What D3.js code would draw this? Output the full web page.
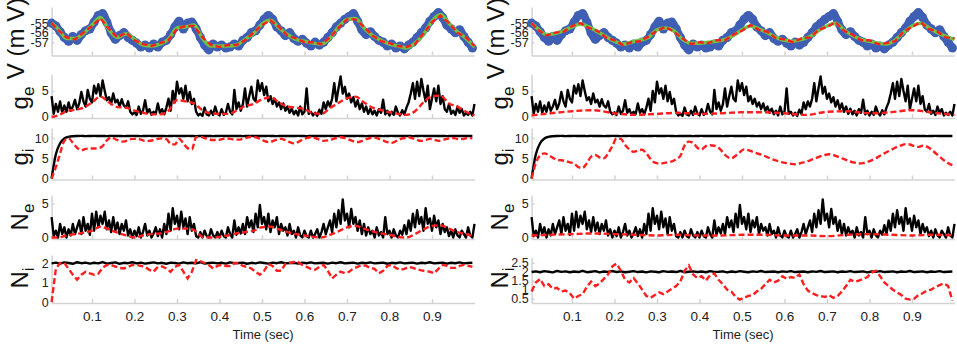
<!DOCTYPE html>
<html>
<head>
<meta charset="utf-8">
<style>
  body { margin: 0; background: #fff; }
  svg { font-family: Arial, "Liberation Sans", sans-serif; }
  .axis path, .axis line { stroke: #d3d3d3; stroke-width: 1.5; }
  .axis text { fill: #222; }
  .ylab { font-size: 24px; fill: #111; }
  .xlab { font-size: 13px; fill: #222; }
  .black { fill: none; stroke: #000; stroke-width: 2.4; stroke-linejoin: round; }
  .red { fill: none; stroke: #ff1e1e; stroke-width: 2.4; stroke-dasharray: 6,3; }
  .green { fill: none; stroke: #6cc544; stroke-width: 3.5; }
  .blue { fill: none; stroke: #3f5fb5; stroke-width: 8; stroke-linejoin: round; }
</style>
</head>
<body>
<script src="https://cdn.jsdelivr.net/npm/d3@7/dist/d3.min.js"></script>
<svg id="chart" width="957" height="350"></svg>
<script>
// ---------- data ----------
const xTicks = [0.1, 0.2, 0.3, 0.4, 0.5, 0.6, 0.7, 0.8, 0.9];

// membrane potential samples, dt = 0.01 (shared by both columns)
const vBlue = [-55.0,-55.3,-55.9,-56.5,-56.9,-56.4,-56.8,-56.2,-55.8,-55.6,
  -54.9,-54.2,-54.0,-54.9,-56.0,-56.7,-56.3,-56.0,-56.5,-56.8,
  -57.1,-57.5,-57.3,-57.6,-57.2,-57.5,-57.0,-56.8,-56.2,-55.4,
  -54.8,-55.6,-55.0,-54.9,-55.6,-56.5,-57.3,-57.8,-57.2,-57.5,
  -57.3,-57.6,-57.5,-57.2,-57.4,-56.8,-56.5,-56.0,-55.8,-55.2,
  -54.6,-54.2,-54.6,-55.4,-55.8,-56.3,-56.0,-56.6,-56.9,-56.7,
  -57.1,-57.4,-57.0,-57.3,-57.0,-56.5,-56.0,-55.4,-55.0,-54.6,
  -54.3,-54.0,-54.8,-55.7,-56.2,-55.9,-56.4,-56.8,-57.0,-57.4,
  -57.2,-57.6,-57.4,-57.7,-57.3,-57.0,-56.5,-56.0,-55.5,-54.8,
  -54.3,-53.9,-54.4,-55.2,-55.6,-56.0,-55.7,-56.4,-57.0,-57.6];

// fitted potentials, dt = 0.02 from t = 0
const vGreenL = [-55.0,-55.6,-56.6,-56.6,-56.1,-55.2,-54.4,-55.7,-56.5,-56.1,
  -56.7,-57.3,-57.4,-57.2,-56.7,-55.5,-55.4,-55.2,-56.6,-57.4,
  -57.4,-57.4,-57.3,-56.7,-56.1,-55.1,-54.7,-55.5,-56.2,-56.7,
  -56.9,-57.1,-57.2,-56.6,-55.4,-54.6,-54.5,-55.5,-56.3,-56.8,
  -57.2,-57.4,-57.6,-57.1,-56.2,-54.8,-54.1,-55.0,-55.9,-56.6,-57.5];
const vRedL = [-55.0,-55.7,-56.5,-56.7,-56.0,-55.3,-54.5,-55.6,-56.5,-56.0,
  -56.8,-57.2,-57.4,-57.1,-56.8,-55.6,-55.3,-55.3,-56.5,-57.3,
  -57.5,-57.3,-57.3,-56.8,-56.0,-55.2,-54.7,-55.4,-56.3,-56.6,
  -57.0,-57.0,-57.2,-56.5,-55.5,-54.6,-54.6,-55.4,-56.3,-56.9,
  -57.1,-57.4,-57.5,-57.2,-56.1,-54.9,-54.2,-55.0,-56.0,-56.5,-57.4];
const vGreenR = [-55.0,-55.6,-56.2,-56.1,-55.8,-55.4,-55.1,-55.4,-55.9,-56.4,
  -56.9,-57.2,-57.0,-56.8,-56.5,-55.7,-55.5,-55.8,-56.7,-57.1,
  -57.1,-57.0,-56.9,-56.7,-56.3,-55.7,-55.3,-55.6,-56.0,-56.5,
  -56.8,-56.9,-56.7,-56.4,-55.8,-55.3,-55.0,-55.7,-56.3,-56.7,
  -56.9,-57.1,-57.2,-56.8,-56.0,-55.3,-55.0,-55.5,-56.0,-56.4,-56.7];
const vRedR = [-55.0,-55.7,-56.3,-56.0,-55.9,-55.3,-55.0,-55.5,-55.8,-56.5,
  -56.8,-57.3,-57.0,-56.9,-56.4,-55.8,-55.4,-55.9,-56.6,-57.2,
  -57.0,-57.1,-56.8,-56.8,-56.2,-55.8,-55.2,-55.7,-55.9,-56.6,
  -56.7,-57.0,-56.6,-56.5,-55.7,-55.4,-54.9,-55.8,-56.2,-56.8,
  -56.8,-57.2,-57.1,-56.9,-55.9,-55.4,-54.9,-55.6,-55.9,-56.5,-56.6];

// excitatory conductance, dt = 0.005 from t = 0.005
const geBlack = [4.0,0.6,2.5,1.0,3.0,0.8,2.2,1.0,2.8,1.2,
  2.0,3.3,1.5,2.6,4.8,3.0,2.0,5.2,3.5,2.8,
  6.0,4.5,6.3,4.0,7.0,5.0,3.2,3.8,2.5,4.5,
  2.8,3.3,2.0,3.4,2.2,1.8,3.0,1.0,0.5,0.9,
  0.4,2.0,0.6,1.2,3.2,0.8,1.5,0.4,1.0,0.6,
  2.6,0.8,1.5,0.5,1.8,3.5,1.2,5.0,2.8,6.8,
  4.5,5.5,3.5,6.0,3.0,4.8,2.5,3.5,1.0,0.3,
  0.6,0.2,1.8,0.5,0.3,1.2,0.4,2.0,0.6,0.3,
  1.5,0.4,0.8,2.5,1.0,0.5,5.2,1.5,2.8,1.2,
  2.4,5.5,2.0,4.0,5.8,3.5,3.0,7.0,5.0,6.5,
  4.2,5.8,3.0,4.0,2.5,3.5,2.0,2.8,1.5,2.6,
  1.2,2.0,0.8,1.6,0.5,1.2,0.3,2.0,0.5,1.0,
  5.5,0.6,1.0,0.3,0.8,0.2,1.4,0.6,2.8,1.5,
  3.0,2.0,3.5,6.5,3.0,5.5,7.8,4.5,5.8,3.5,
  4.5,2.8,3.8,2.0,3.2,1.5,2.6,1.0,2.0,0.6,
  1.6,0.5,1.2,0.3,1.5,0.8,3.3,0.5,1.2,0.3,
  1.0,0.4,2.0,0.8,0.3,1.3,0.5,1.8,2.8,4.5,
  6.5,3.5,6.8,4.0,7.3,5.0,3.0,6.0,1.5,3.5,
  5.5,3.0,6.0,2.5,4.0,1.5,1.0,2.5,0.6,1.2,
  0.4,2.0,0.8,1.5,0.3,0.8,0.4,1.0,0.3,2.5];
// estimates: left dt = 0.02, right dt = 0.05, both from t = 0
const geRedL = [0.0,0.3,1.1,1.4,1.8,2.8,3.9,2.8,1.9,1.8,
  1.2,0.8,0.5,0.5,1.2,3.2,3.0,2.6,1.3,0.7,
  0.6,0.6,1.2,2.1,2.5,3.4,3.8,2.8,2.0,1.8,
  1.5,0.7,0.6,1.7,2.7,3.6,3.9,2.8,1.8,1.3,
  0.9,0.6,0.4,1.1,2.8,4.0,4.1,2.6,2.0,1.0,0.3];
const geRedR = [0.3,0.7,1.1,1.3,0.7,0.4,0.6,0.8,0.6,0.7,
  0.9,0.9,0.7,0.4,1.0,1.1,0.7,0.9,1.3,0.8,0.4];

// inhibitory conductance, dt = 0.01 from t = 0.005
const giBlack = [0.0,6.0,8.7,9.9,10.3,10.45,10.5,10.52,10.48,10.5,
  10.53,10.49,10.5,10.47,10.52,10.5,10.51,10.48,10.5,10.53,
  10.5,10.47,10.5,10.52,10.49,10.5,10.51,10.48,10.5,10.52,
  10.5,10.49,10.53,10.5,10.48,10.5,10.51,10.5,10.47,10.5,
  10.52,10.5,10.49,10.5,10.51,10.48,10.5,10.52,10.5,10.49,
  10.5,10.53,10.5,10.48,10.5,10.51,10.49,10.5,10.52,10.5,
  10.48,10.5,10.51,10.5,10.49,10.53,10.5,10.48,10.5,10.51,
  10.5,10.49,10.52,10.5,10.48,10.5,10.51,10.5,10.47,10.5,
  10.52,10.5,10.49,10.5,10.51,10.48,10.5,10.52,10.5,10.49,
  10.5,10.51,10.5,10.48,10.5,10.52,10.5,10.49,10.5,10.51];
const giRedL = [0.0,2.8,6.2,9.3,9.9,8.8,7.6,7.0,7.3,7.4,
  7.4,7.5,8.0,9.4,10.2,9.7,9.3,9.1,9.5,9.8,
  9.8,9.6,9.3,9.3,9.5,9.8,9.9,9.7,8.6,8.4,
  9.8,8.7,7.5,7.2,10.2,10.3,10.0,9.7,9.5,9.5,
  9.7,9.9,9.8,9.6,9.6,9.8,10.1,10.3,10.2,9.8,
  9.3,9.0,9.2,9.6,9.8,9.5,9.0,8.7,9.0,9.6,
  10.0,10.2,10.0,9.6,9.3,9.4,9.7,10.0,10.2,10.0,
  9.6,9.2,9.0,9.3,9.7,10.0,10.1,9.8,9.4,9.0,
  8.8,9.2,9.7,10.0,10.2,9.9,9.5,9.3,9.5,9.8,
  9.6,9.3,9.5,9.8,10.0,9.9,9.7,9.8,10.0,9.9];
const giRedR = [0.0,3.8,5.7,6.2,5.8,5.1,4.6,4.5,4.3,4.0,
  3.7,2.8,2.6,3.8,5.4,5.8,5.2,5.0,6.2,8.0,
  9.9,9.8,8.3,7.2,6.6,6.9,7.1,6.2,4.8,3.9,
  3.7,3.8,4.0,4.2,4.8,5.6,8.2,9.1,8.8,7.6,
  7.2,8.0,8.2,8.1,7.6,6.5,5.4,5.0,5.6,6.5,
  7.2,7.0,6.6,6.2,5.9,5.5,5.0,4.6,4.3,4.0,
  3.8,3.6,3.5,3.7,4.0,4.3,4.7,5.1,5.5,5.8,
  6.0,5.8,5.4,5.0,4.6,4.2,3.9,3.7,3.8,4.1,
  4.5,5.0,5.6,6.2,6.8,7.3,7.8,8.2,8.5,8.4,
  8.0,7.8,8.1,7.9,7.2,6.3,5.4,4.5,3.8,3.3];

// excitatory spike counts, dt = 0.005 from t = 0.005
const neBlack = [3.0,0.2,1.0,0.0,2.0,0.5,1.5,0.0,1.2,0.3,
  2.0,0.5,1.5,2.5,0.5,3.0,1.0,2.0,0.4,3.5,
  1.0,3.8,1.5,3.2,2.0,3.8,1.2,2.5,0.8,3.0,
  1.0,2.2,0.5,2.0,1.0,2.5,0.3,1.2,0.0,1.0,
  0.2,1.5,0.0,0.8,2.0,0.3,1.0,0.0,0.6,1.5,
  0.2,1.2,0.0,2.0,0.5,3.5,1.0,4.3,2.0,3.2,
  1.2,3.8,1.5,2.8,0.5,3.0,1.0,2.0,0.2,0.0,
  0.8,0.0,1.0,0.2,0.0,1.2,0.3,0.0,0.8,0.0,
  1.0,0.2,0.0,1.5,0.5,0.0,2.5,0.4,1.5,0.6,
  2.0,0.5,3.0,1.5,2.5,0.8,3.5,1.5,4.8,2.0,
  3.0,1.2,3.5,0.8,2.5,1.5,3.0,0.5,2.0,1.0,
  1.5,0.3,2.0,0.5,1.0,0.0,1.5,0.3,0.0,1.0,
  0.2,0.0,1.0,0.0,0.5,1.2,0.0,0.8,2.0,0.5,
  1.5,2.5,0.8,3.5,1.5,4.0,2.0,5.6,2.5,3.5,
  1.5,4.2,2.0,3.0,1.0,2.5,0.5,2.0,0.3,1.5,
  0.5,1.0,0.0,1.5,0.3,0.8,0.0,3.0,0.5,1.0,
  0.0,1.2,0.3,0.0,1.0,0.4,1.8,0.5,2.5,1.0,
  3.5,1.5,4.0,2.0,3.0,1.0,4.3,2.0,2.8,1.0,
  3.2,1.5,2.5,0.5,2.0,0.8,1.5,0.2,1.0,0.0,
  1.2,0.3,0.0,1.0,0.5,0.0,1.5,0.3,0.0,2.0];
const neRedL = [0.0,0.0,0.3,0.5,0.7,1.0,1.6,1.2,0.7,0.3,
  0.0,0.3,0.5,0.6,0.9,1.3,1.3,1.1,0.1,0.0,
  0.1,0.3,0.6,0.8,1.0,1.5,1.6,1.2,0.8,0.5,
  0.3,0.1,0.0,0.4,0.9,1.5,1.7,1.3,0.9,0.6,
  0.4,0.1,0.0,0.5,1.2,1.7,1.8,1.3,0.8,0.5,0.2];
const neRedR = [0.3,0.4,0.5,0.6,0.5,0.4,0.3,0.4,0.3,0.3,
  0.4,0.4,0.3,0.3,0.2,0.4,0.5,0.4,0.3,0.4,0.3];

// inhibitory spike counts, dt = 0.01 from t = 0.005
const niBlack = [1.98,2.02,1.97,2.03,2.0,1.96,2.04,1.99,2.02,1.97,
  2.01,1.98,2.05,1.97,2.0,2.03,1.96,2.01,1.99,2.04,
  1.98,2.02,1.97,2.0,2.03,1.98,2.01,1.96,2.02,2.0,
  1.97,2.03,1.99,2.01,1.98,2.04,1.97,2.0,2.02,1.98,
  2.01,1.97,2.03,1.99,2.0,2.02,1.96,2.01,1.98,2.03,
  2.0,1.97,2.02,1.99,2.04,1.98,2.0,2.01,1.97,2.02,
  1.99,2.03,1.98,2.0,2.01,1.97,2.02,1.99,2.04,1.98,
  2.0,2.02,1.97,2.01,1.99,2.03,1.98,2.0,2.02,1.96,
  2.01,1.99,2.03,1.98,2.0,2.02,1.97,2.01,1.99,2.04,
  1.98,2.0,2.02,1.97,2.01,1.99,2.03,1.98,2.0,2.01];
const niRedL = [0.0,1.7,2.0,2.0,1.7,1.4,1.15,1.4,1.55,1.47,
  1.4,1.45,1.75,1.9,1.9,1.82,1.75,1.72,1.8,1.9,
  1.9,1.85,1.8,1.65,1.56,1.8,1.82,1.72,1.55,1.8,
  1.9,1.56,1.21,1.55,2.15,2.1,2.0,1.9,1.72,1.85,
  1.9,1.85,1.85,2.0,2.0,1.85,1.8,1.72,1.55,1.4,
  1.6,1.95,1.85,1.6,1.6,1.95,2.0,2.05,2.05,1.9,
  1.8,1.7,1.65,1.8,1.9,1.6,1.21,1.4,1.56,1.48,
  1.55,1.72,1.8,1.9,1.85,1.75,1.7,1.47,1.6,1.85,
  1.9,1.75,1.64,1.7,1.8,1.75,1.68,1.62,1.58,1.55,
  1.47,1.7,1.9,1.85,1.75,1.75,1.85,1.9,1.85,1.81];
const niRedR = [0.9,1.4,1.6,1.2,1.3,1.05,1.1,0.9,0.95,0.8,
  0.5,0.65,0.75,1.15,1.45,1.2,1.35,1.6,1.85,2.3,
  2.45,2.05,1.55,1.4,1.65,1.35,1.0,0.65,0.55,0.7,
  0.85,0.75,0.9,1.05,1.2,1.45,2.05,2.35,1.85,1.65,
  1.75,1.5,1.8,1.9,1.55,1.3,1.0,0.9,0.6,0.45,
  0.55,0.65,0.7,0.9,1.05,1.3,1.55,1.4,1.5,1.75,
  1.6,1.7,1.65,1.85,1.3,0.95,0.8,0.7,0.65,0.6,
  0.7,0.55,0.65,0.9,1.2,1.55,1.45,1.5,1.6,1.7,
  1.95,2.05,1.75,1.4,1.2,1.0,0.85,0.7,0.5,0.45,
  0.5,0.7,0.8,0.95,1.0,1.15,1.25,1.35,1.2,0.4];

// ---------- drawing ----------
const svg = d3.select("#chart");
const pairs = (vals, t0, dt) => vals.map((v, i) => [Math.max(t0 + i * dt, 0.005), v]);

const columns = [
  { dx: 0, rows: [
    { domain: [-58.4, -53.3], range: [55.5, 7], ticks: [-57, -56, -55] },
    { domain: [-0.2, 8.2], range: [118, 74.3], ticks: [0, 5] },
    { domain: [-0.25, 12.5], range: [179.5, 127.9], ticks: [0, 5, 10] },
    { domain: [-0.22, 6.25], range: [239, 195], ticks: [0, 5] },
    { domain: [-0.05, 2.41], range: [303, 255], ticks: [0, 1, 2] }
  ], series: {
    vGreen: vGreenL, vRed: vRedL, geRed: geRedL, geDt: 0.02,
    giRed: giRedL, neRed: neRedL, neDt: 0.02, niRed: niRedL
  }},
  { dx: 480, rows: [
    { domain: [-58.4, -53.3], range: [55.5, 7], ticks: [-57, -56, -55] },
    { domain: [-0.2, 8.2], range: [118, 74.3], ticks: [0, 5] },
    { domain: [-0.25, 12.5], range: [179.5, 127.9], ticks: [0, 5, 10] },
    { domain: [-0.22, 6.25], range: [239, 195], ticks: [0, 5] },
    { domain: [0.26, 2.8], range: [303, 257.3], ticks: [0.5, 1, 1.5, 2, 2.5] }
  ], series: {
    vGreen: vGreenR, vRed: vRedR, geRed: geRedR, geDt: 0.05,
    giRed: giRedR, neRed: neRedR, neDt: 0.05, niRed: niRedR
  }}
];

const labels = [
  { main: "V (m V)", sub: null, y: 38.5, x: 24 },
  { main: "g", sub: "e", y: 98, x: 28 },
  { main: "g", sub: "i", y: 157, x: 28 },
  { main: "N", sub: "e", y: 217, x: 28 },
  { main: "N", sub: "i", y: 278, x: 28 }
];

columns.forEach(col => {
  const x = d3.scaleLinear().domain([0.005, 1]).range([51.6 + col.dx, 474.5 + col.dx]);
  const ys = col.rows.map(r => d3.scaleLinear().domain(r.domain).range(r.range));
  const s = col.series;

  // axes
  ys.forEach((y, k) => {
    const last = k === ys.length - 1;
    const xa = d3.axisBottom(x).tickValues(xTicks).tickSizeInner(-4).tickSizeOuter(0)
      .tickPadding(8).tickFormat(last ? d3.format(".1f") : "");
    svg.append("g").attr("class", "axis")
      .attr("transform", `translate(0,${y.range()[0]})`)
      .call(xa).call(g => g.selectAll("text").attr("font-size", 13.5));
    const ya = d3.axisLeft(y).tickValues(col.rows[k].ticks).tickSizeInner(-3).tickSizeOuter(0)
      .tickPadding(3).tickFormat(d => String(d));
    svg.append("g").attr("class", "axis")
      .attr("transform", `translate(${x.range()[0]},0)`)
      .call(ya).call(g => g.selectAll("text").attr("font-size", 12.5));
  });

  const line = y => d3.line().x(d => x(d[0])).y(d => y(d[1]));
  const smooth = y => d3.line().curve(d3.curveMonotoneX).x(d => x(d[0])).y(d => y(d[1]));

  // V panel
  const vb = pairs(vBlue, 0.005, 0.01);
  svg.append("path").datum(vb).attr("class", "blue").attr("d", smooth(ys[0]));
  svg.append("g").selectAll("circle").data(vb).join("circle")
    .attr("cx", d => x(d[0])).attr("cy", d => ys[0](d[1])).attr("r", 4.6).attr("fill", "#3f5fb5");
  svg.append("path").datum(pairs(s.vGreen, 0, 0.02)).attr("class", "green").attr("d", smooth(ys[0]));
  svg.append("path").datum(pairs(s.vRed, 0, 0.02)).attr("class", "red").attr("d", line(ys[0]));

  // ge
  svg.append("path").datum(pairs(geBlack, 0.005, 0.005)).attr("class", "black").attr("d", line(ys[1]));
  svg.append("path").datum(pairs(s.geRed, 0, s.geDt)).attr("class", "red").attr("d", smooth(ys[1]));

  // gi
  svg.append("path").datum(pairs(giBlack, 0.005, 0.01)).attr("class", "black").attr("d", smooth(ys[2]));
  svg.append("path").datum(pairs(s.giRed, 0.005, 0.01)).attr("class", "red").attr("d", smooth(ys[2]));

  // Ne
  svg.append("path").datum(pairs(neBlack, 0.005, 0.005)).attr("class", "black").attr("d", line(ys[3]));
  svg.append("path").datum(pairs(s.neRed, 0, s.neDt)).attr("class", "red").attr("d", smooth(ys[3]));

  // Ni
  svg.append("path").datum(pairs(niBlack, 0.005, 0.01)).attr("class", "black").attr("d", line(ys[4]));
  svg.append("path").datum(pairs(s.niRed, 0.005, 0.01)).attr("class", "red").attr("d", line(ys[4]));

  // y labels
  labels.forEach(l => {
    const t = svg.append("text").attr("class", "ylab").attr("text-anchor", "middle")
      .attr("transform", `translate(${l.x + col.dx},${l.y}) rotate(-90)`);
    t.append("tspan").text(l.main);
    if (l.sub) t.append("tspan").attr("font-size", 17).attr("dy", 6).text(l.sub);
  });

  svg.append("text").attr("class", "xlab").attr("text-anchor", "middle")
    .attr("x", (x.range()[0] + x.range()[1]) / 2).attr("y", 339).text("Time (sec)");
});
</script>
</body>
</html>
